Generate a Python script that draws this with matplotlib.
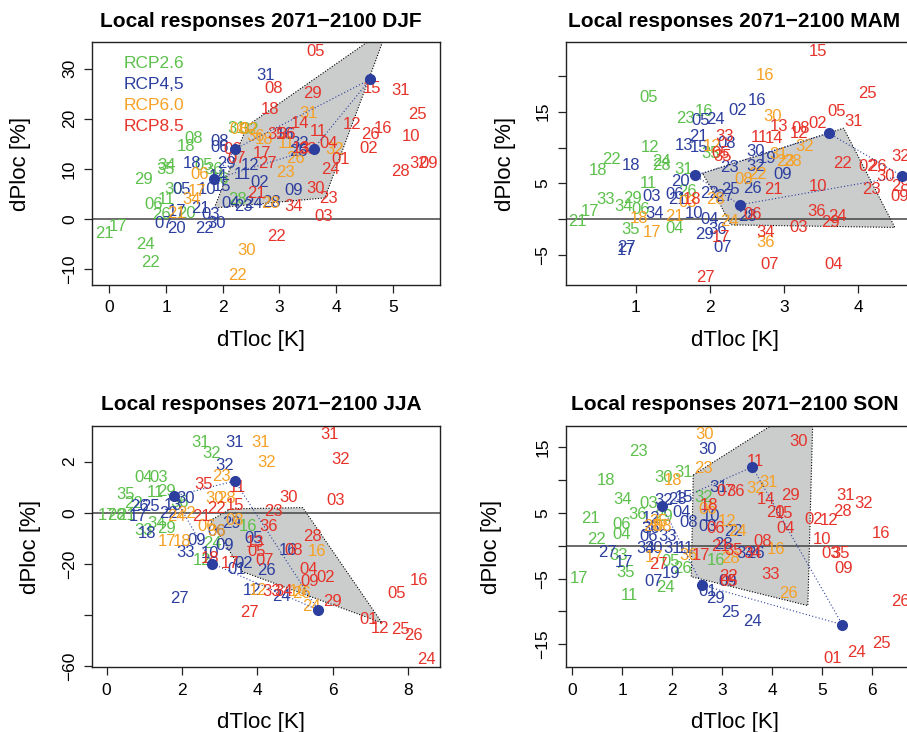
import matplotlib
matplotlib.use('Agg')
import matplotlib.pyplot as plt
from matplotlib.patches import Polygon

plt.rcParams['font.family'] = ['Liberation Sans', 'DejaVu Sans']

#%% Colours

c26 = '#5cc04b'
c45 = '#2c3e9e'
c60 = '#f6a125'
c85 = '#e6332a'

#%% Data: (model number, dTloc [K], dPloc)

# DJF
djf_26 = [('08', 1.48, 16.1), ('18', 1.35, 14.5), ('34', 1.01, 10.7), ('35', 0.99, 9.9), ('29', 0.6, 7.9),
          ('05', 1.66, 10.7), ('36', 1.84, 9.9), ('30', 1.13, 5.9), ('06', 0.78, 2.8), ('11', 1.01, 3.8),
          ('20', 1.36, 1.1), ('26', 0.92, 0.8), ('21', -0.08, -3.0), ('17', 0.16, -1.5), ('24', 0.63, -5.2),
          ('22', 0.72, -8.7), ('31', 2.25, 18.1), ('32', 2.48, 17.8), ('28', 2.26, 3.9), ('16', 1.95, 7.8)]
djf_45 = [('31', 2.76, 28.6), ('08', 1.95, 15.5), ('06', 1.95, 14.3), ('18', 1.45, 11.1), ('29', 2.06, 11.1),
          ('12', 2.48, 10.7), ('11', 2.34, 8.8), ('02', 2.65, 7.3), ('09', 3.25, 5.7), ('04', 2.13, 3.1),
          ('23', 2.36, 2.5), ('24', 2.54, 3.1), ('28', 2.86, 3.3), ('05', 1.28, 5.9), ('17', 1.19, 1.5),
          ('07', 0.95, -0.9), ('20', 1.19, -1.9), ('22', 1.68, -1.9), ('03', 1.78, 0.8), ('30', 1.89, -0.9),
          ('21', 1.6, 2.1), ('32', 3.36, 15.1), ('16', 3.1, 16.8), ('25', 3.34, 13.5), ('14', 1.92, 8.5),
          ('10', 1.72, 5.8), ('15', 1.98, 6.5)]
djf_60 = [('31', 3.51, 21.1), ('08', 2.28, 17.8), ('02', 2.45, 17.8), ('36', 2.57, 16.5), ('18', 2.72, 15.8),
          ('11', 3.13, 15.0), ('32', 3.98, 13.8), ('26', 3.29, 12.1), ('23', 3.1, 9.3), ('06', 1.6, 8.8),
          ('17', 1.54, 5.5), ('34', 1.45, 3.8), ('21', 1.19, 1.1), ('28', 2.84, 3.1), ('30', 2.42, -6.3),
          ('22', 2.26, -11.4)]
djf_85 = [('05', 3.64, 33.5), ('08', 2.89, 26.1), ('29', 3.58, 25.1), ('15', 4.63, 26.1), ('31', 5.13, 25.7),
          ('18', 2.84, 21.8), ('14', 3.36, 19.1), ('11', 3.69, 17.5), ('12', 4.28, 18.8), ('25', 5.44, 20.8),
          ('16', 4.82, 18.1), ('26', 4.6, 16.8), ('10', 5.32, 16.5), ('02', 4.57, 14.1), ('04', 3.86, 15.1),
          ('01', 4.07, 11.9), ('24', 3.89, 9.8), ('28', 5.13, 9.5), ('32', 5.45, 11.0), ('09', 5.63, 11.1),
          ('30', 3.63, 6.1), ('23', 3.86, 4.1), ('03', 3.78, 0.5), ('34', 3.25, 2.5), ('21', 2.6, 5.1),
          ('22', 2.95, -3.5), ('17', 2.69, 13.1), ('27', 2.78, 11.1), ('07', 2.24, 12.1), ('06', 2.18, 13.8),
          ('35', 2.95, 16.8), ('36', 3.12, 16.8), ('13', 3.38, 14.1), ('33', 3.5, 13.8)]
djf_poly = [(1.85, 2.2), (2.43, 18.6), (4.91, 38.2), (3.80, 4.2)]
djf_dots = [(1.84, 7.9), (2.22, 14.0), (4.6, 27.9), (3.6, 14.0)]

# MAM
mam_26 = [('05', 1.18, 17.0), ('16', 1.92, 15.0), ('23', 1.67, 14.0), ('12', 1.19, 10.0), ('22', 0.67, 8.3),
          ('18', 0.49, 6.8), ('24', 1.34, 8.0), ('28', 1.34, 7.5), ('31', 1.64, 6.9), ('11', 1.17, 5.0),
          ('26', 1.7, 3.8), ('33', 0.6, 2.7), ('29', 0.95, 2.9), ('34', 0.83, 1.7), ('06', 1.07, 1.4),
          ('17', 0.38, 1.0), ('21', 0.22, -0.4), ('35', 0.93, -1.4), ('04', 1.52, -1.3), ('35', 2.01, 9.1)]
mam_45 = [('16', 2.64, 16.6), ('02', 2.37, 15.2), ('05', 1.88, 13.8), ('24', 2.08, 13.9), ('21', 1.85, 11.5),
          ('13', 1.65, 10.3), ('15', 1.85, 10.0), ('08', 2.23, 10.5), ('30', 2.62, 9.4), ('19', 2.77, 8.5),
          ('23', 2.26, 7.2), ('32', 2.62, 7.3), ('09', 2.98, 6.3), ('18', 0.94, 7.5), ('20', 1.6, 5.2),
          ('25', 2.28, 4.2), ('26', 2.57, 4.3), ('03', 1.22, 3.1), ('06', 1.52, 3.5), ('21', 1.56, 2.8),
          ('22', 1.99, 3.6), ('27', 2.19, 3.2), ('34', 1.25, 0.8), ('10', 1.78, 0.8), ('04', 2.0, 0.0),
          ('29', 1.92, -2.2), ('36', 2.1, -1.5), ('07', 2.17, -4.0), ('28', 2.5, 0.4), ('27', 0.87, -3.9),
          ('17', 0.87, -4.4)]
mam_60 = [('16', 2.74, 20.0), ('30', 2.84, 14.3), ('32', 3.27, 10.2), ('31', 2.93, 9.0), ('23', 3.02, 8.0),
          ('28', 3.11, 8.0), ('12', 2.03, 10.1), ('22', 2.64, 6.2), ('08', 2.46, 5.5), ('03', 1.7, 2.3),
          ('28', 2.07, 2.7), ('18', 1.04, 0.1), ('21', 1.52, 0.3), ('17', 1.22, -1.8), ('24', 2.26, -0.4),
          ('36', 2.75, -3.2)]
mam_85 = [('15', 3.46, 23.4), ('25', 4.12, 17.5), ('05', 3.70, 15.0), ('31', 3.94, 13.6), ('02', 3.45, 13.3),
          ('08', 3.22, 12.7), ('12', 3.2, 12.0), ('13', 2.93, 13.0), ('11', 2.66, 11.4), ('14', 2.86, 11.3),
          ('33', 2.19, 11.5), ('35', 2.17, 8.7), ('05', 2.15, 9.1), ('22', 3.79, 7.8), ('02', 4.12, 7.3),
          ('26', 4.26, 7.3), ('30', 4.37, 5.9), ('32', 4.57, 8.7), ('28', 4.57, 4.5), ('09', 4.55, 3.1),
          ('23', 4.17, 4.1), ('10', 3.45, 4.5), ('21', 2.86, 4.1), ('18', 1.76, 2.8), ('36', 3.43, 1.0),
          ('24', 3.72, 0.3), ('29', 3.63, -0.5), ('03', 3.2, -1.1), ('06', 2.57, 0.7), ('34', 2.75, -1.8),
          ('17', 2.15, -2.6), ('07', 2.8, -6.4), ('04', 3.67, -6.4), ('27', 1.94, -8.1)]
mam_poly = [(1.9, 6.4), (3.8, 12.7), (4.49, -1.16), (2.28, -0.8), (2.12, 2.4)]
mam_dots = [(1.8, 6.1), (3.6, 12.0), (4.59, 6.0), (2.4, 2.0)]

# JJA (axis units, labels of the y axis are given below)
jja_26 = [('31', 2.48, 2.73), ('32', 2.79, 2.32), ('04', 0.97, 1.37), ('03', 1.39, 1.37), ('35', 0.49, 0.72),
          ('11', 1.28, 0.78), ('29', 1.59, 0.82), ('22', 0.71, 0.36), ('17', 0.0, -0.09), ('28', 0.27, -0.09),
          ('21', 0.53, -0.09), ('33', 0.97, -0.68), ('34', 1.33, -0.42), ('29', 1.59, -0.61), ('24', 2.81, -1.2),
          ('16', 3.76, -0.55), ('12', 2.52, -1.85), ('36', 1.94, 0.39)]
jja_45 = [('31', 3.4, 2.73), ('32', 3.14, 1.86), ('26', 0.88, 0.26), ('25', 1.15, 0.26), ('17', 0.84, -0.13),
          ('22', 1.64, -0.03), ('18', 1.06, -0.83), ('30', 2.08, 0.56), ('13', 1.77, 0.3), ('33', 2.08, -1.56),
          ('09', 2.39, -1.09), ('29', 3.32, -0.44), ('09', 3.14, -1.29), ('10', 2.74, -1.59), ('01', 3.45, -2.21),
          ('02', 3.63, -1.98), ('26', 4.23, -2.24), ('16', 4.82, -1.46), ('05', 3.89, -1.0), ('12', 3.85, -3.02),
          ('24', 4.64, -3.28), ('27', 1.94, -3.35), ('06', 2.92, -0.74)]
jja_60 = [('31', 4.07, 2.75), ('32', 4.24, 1.95), ('23', 3.05, 1.41), ('30', 2.87, 0.56), ('28', 3.18, 0.56),
          ('24', 1.86, -0.16), ('22', 2.12, -0.03), ('08', 3.4, -0.29), ('06', 2.65, -0.55), ('36', 2.92, -0.74),
          ('17', 1.59, -1.13), ('18', 1.99, -1.13), ('16', 5.57, -1.52), ('10', 5.08, -3.09), ('26', 5.17, -3.15),
          ('12', 4.02, -3.02), ('24', 5.44, -3.65)]
jja_85 = [('31', 5.92, 3.06), ('32', 6.21, 2.06), ('03', 6.07, 0.49), ('30', 4.82, 0.6), ('35', 2.56, 1.12),
          ('11', 3.47, 1.0), ('23', 4.42, 0.03), ('36', 4.29, -0.55), ('28', 5.46, -0.91), ('08', 4.95, -1.48),
          ('15', 3.4, 0.3), ('22', 2.92, 0.17), ('21', 2.52, -0.16), ('13', 3.93, -1.17), ('05', 3.98, -1.52),
          ('07', 4.2, -1.85), ('04', 5.35, -2.21), ('02', 5.82, -2.53), ('09', 5.39, -2.7), ('18', 2.74, -1.78),
          ('17', 3.27, -1.98), ('33', 4.38, -3.09), ('34', 4.69, -3.09), ('29', 5.99, -3.48), ('27', 3.8, -3.89),
          ('16', 8.27, -2.63), ('05', 7.69, -3.15), ('01', 6.94, -4.17), ('12', 7.25, -4.52), ('25', 7.78, -4.58),
          ('26', 8.13, -4.78), ('24', 8.49, -5.73)]
jja_poly = [(2.75, -0.3), (3.3, 0.15), (5.2, 0.2), (7.3, -4.3), (3.6, -2.3)]
jja_dots = [(1.79, 0.65), (3.4, 1.24), (5.61, -3.8), (2.8, -1.99)]

# SON
son_26 = [('23', 1.33, 14.3), ('18', 0.67, 10.0), ('30', 1.82, 10.4), ('31', 2.23, 11.2), ('34', 1.0, 7.0),
          ('03', 1.52, 6.4), ('36', 1.3, 4.8), ('21', 0.37, 4.2), ('06', 0.99, 3.3), ('04', 0.99, 1.7),
          ('22', 0.49, 1.0), ('33', 0.93, -1.5), ('35', 1.07, -4.1), ('17', 0.13, -5.0), ('11', 1.15, -7.5),
          ('24', 1.87, -6.3), ('05', 1.97, -2.4), ('26', 2.2, -3.4), ('32', 2.63, 7.4), ('16', 2.87, -2.3),
          ('29', 1.83, 4.5)]
son_45 = [('30', 2.7, 14.7), ('31', 2.93, 8.9), ('32', 1.83, 6.9), ('23', 2.1, 7.0), ('15', 2.23, 7.3),
          ('04', 2.19, 5.1), ('08', 2.33, 3.5), ('12', 1.57, 4.2), ('36', 1.57, 2.7), ('06', 1.53, 1.4),
          ('33', 1.9, 1.4), ('34', 1.47, -0.4), ('30', 1.63, -0.4), ('31', 2.0, -0.4), ('11', 2.27, -0.4),
          ('27', 0.7, -1.0), ('17', 1.03, -2.6), ('19', 1.97, -4.2), ('07', 1.63, -5.4), ('01', 2.7, -7.0),
          ('29', 2.87, -8.0), ('25', 3.17, -10.1), ('24', 3.6, -11.6), ('09', 3.1, -5.5), ('28', 3.03, 0.2),
          ('34', 3.47, -1.1), ('26', 3.67, -1.1), ('10', 2.77, 4.5), ('22', 3.23, 2.2), ('03', 2.7, 2.9)]
son_60 = [('30', 2.65, 17.0), ('23', 2.63, 11.8), ('18', 2.02, 9.9), ('31', 3.93, 9.7), ('32', 3.67, 8.8),
          ('06', 2.7, 5.5), ('12', 3.1, 3.7), ('24', 3.3, 2.2), ('28', 1.6, 2.9), ('08', 1.8, 2.9),
          ('35', 1.73, 3.7), ('17', 1.63, -1.7), ('36', 2.33, -1.4), ('16', 4.07, -0.6), ('28', 3.17, -2.0),
          ('26', 4.33, -7.2)]
son_85 = [('30', 4.53, 15.9), ('11', 3.67, 12.9), ('31', 5.47, 7.6), ('32', 5.82, 6.5), ('28', 5.4, 5.3),
          ('16', 6.17, 1.9), ('02', 4.83, 4.0), ('12', 5.13, 3.8), ('10', 4.99, 1.0), ('03', 5.17, -1.2),
          ('35', 5.37, -1.2), ('09', 5.42, -3.4), ('26', 6.57, -8.5), ('25', 6.19, -14.8), ('24', 5.69, -16.3),
          ('01', 5.2, -17.2), ('29', 4.37, 7.6), ('14', 3.87, 7.0), ('20', 4.07, 5.1), ('15', 4.23, 5.0),
          ('04', 4.27, 2.6), ('07', 3.07, 8.3), ('36', 3.27, 8.3), ('18', 2.73, 6.1), ('06', 2.87, 2.6),
          ('08', 3.8, 0.6), ('21', 2.97, -0.1), ('35', 3.23, -0.7), ('34', 3.6, -1.1), ('33', 3.97, -4.4),
          ('22', 3.13, -4.7), ('17', 2.57, -1.4), ('27', 1.73, -2.9), ('05', 3.13, -5.4)]
son_poly = [(2.42, 10.8), (4.82, 22.4), (4.71, -9.1), (2.38, -4.7)]
son_dots = [(1.8, 6.0), (3.6, 12.0), (5.4, -12.0), (2.6, -6.0)]

legend_names = ['RCP2.6', 'RCP4,5', 'RCP6.0', 'RCP8.5']

#%% Figure layout (pixels of a 907x732 picture)

W, H = 907., 732.
fig = plt.figure(figsize=(9.07, 7.32), dpi=100)

def make_ax(left, top, width, height):
    return fig.add_axes([left/W, 1-(top+height)/H, width/W, height/H])

ax_djf = make_ax(92.3, 42.3, 347.7, 242.7)
ax_mam = make_ax(565.7, 42.3, 347.7, 242.7)
ax_jja = make_ax(92.3, 425.7, 347.7, 241.6)
ax_son = make_ax(565.7, 425.7, 347.7, 241.6)


def panel(ax, season, sets, poly, dots, xlim, ylim, xticks, yticks, ylabels, ylab_px):
    ax.add_patch(Polygon(poly, closed=True, facecolor='#cbcccc', edgecolor='black',
                         linestyle=(0, (1, 1.5)), linewidth=0.8, zorder=1))
    ax.axhline(0, color='#444444', linewidth=1.1, zorder=2)
    for data, c in zip(sets, [c26, c45, c60, c85]):
        for lab, x, y in data:
            ax.text(x, y, lab, color=c, fontsize=12, ha='center', va='center', zorder=3)
    dx = [d[0] for d in dots] + [dots[0][0]]
    dy = [d[1] for d in dots] + [dots[0][1]]
    ax.plot(dx, dy, linestyle=(0, (1, 2)), color=c45, linewidth=0.8, zorder=4)
    ax.plot(dx[:-1], dy[:-1], 'o', color=c45, markersize=7, zorder=5)

    ax.set_xlim(xlim)
    ax.set_ylim(ylim)
    ax.set_xticks(xticks)
    ax.set_xticklabels([str(t) for t in xticks])
    ax.set_yticks(yticks)
    ax.set_yticklabels(ylabels, rotation=90, va='center')
    ax.tick_params(length=6, width=0.9, labelsize=12.5, pad=5, color='#222222')
    for s in ax.spines.values():
        s.set_linewidth(1.0)
        s.set_color('#222222')

    h = ax.get_position().height*H
    w = ax.get_position().width*W
    ax.text(0.5 - 5/w, 1 + 21/h, 'Local responses 2071\u22122100 ' + season,
            transform=ax.transAxes, ha='center', va='center', fontsize=15, fontweight='bold')
    ax.text(0.5 - 5/w, -55/h, 'dTloc [K]', transform=ax.transAxes, ha='center', va='center', fontsize=16)
    ax.text(-ylab_px/w, 0.5, 'dPloc [%]', transform=ax.transAxes, ha='center', va='center',
            fontsize=16, rotation=90)


panel(ax_djf, 'DJF', [djf_26, djf_45, djf_60, djf_85], djf_poly, djf_dots,
      (-0.3, 5.83), (-13.2, 35.3), [0, 1, 2, 3, 4, 5],
      [-10, 0, 10, 20, 30], ['\u221210', '0', '10', '20', '30'], 72)
panel(ax_mam, 'MAM', [mam_26, mam_45, mam_60, mam_85], mam_poly, mam_dots,
      (0.057, 4.74), (-9.2, 24.7), [1, 2, 3, 4],
      [-5, 0, 5, 10, 15, 20], ['\u22125', '', '5', '', '15', ''], 60)
panel(ax_jja, 'JJA', [jja_26, jja_45, jja_60, jja_85], jja_poly, jja_dots,
      (-0.38, 8.84), (-6.04, 3.4), [0, 2, 4, 6, 8],
      [2, 0, -2, -4, -6], ['2', '0', '\u221220', '', '\u221260'], 62)
panel(ax_son, 'SON', [son_26, son_45, son_60, son_85], son_poly, son_dots,
      (-0.13, 6.82), (-18.5, 18.3), [0, 1, 2, 3, 4, 5, 6],
      [-15, -10, -5, 0, 5, 10, 15], ['\u221215', '', '\u22125', '', '5', '', '15'], 74)

# legend as coloured text
for i, (name, c) in enumerate(zip(legend_names, [c26, c45, c60, c85])):
    ax_djf.text(0.091, 0.911 - i*0.0866, name, color=c, fontsize=12.5, ha='left', va='center',
                transform=ax_djf.transAxes)

plt.savefig('out.png', dpi=100)
